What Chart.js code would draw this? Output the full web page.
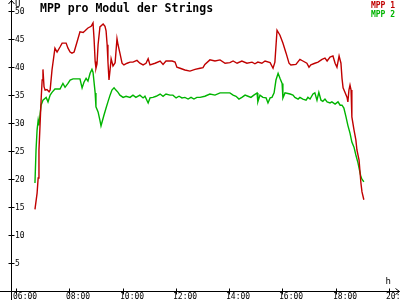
<!DOCTYPE html>
<html>
<head>
<meta charset="utf-8">
<script src="https://cdn.jsdelivr.net/npm/chart.js@4/dist/chart.umd.min.js"></script>
<style>
html,body{margin:0;padding:0;background:#fff;}
canvas{display:block;}
</style>
</head>
<body>
<canvas id="c" width="400" height="300"></canvas>
<script>
const titleText = "MPP pro Modul der Strings";
const seriesNames = ["MPP 1", "MPP 2"];
const seriesColors = ["#c00000", "#00b400"];
const yUnit = "U";
const xUnit = "h";

const xTickHours = [6, 8, 10, 12, 14, 16, 18, 20];
const xTickLabels = ["06:00", "08:00", "10:00", "12:00", "14:00", "16:00", "18:00", "20:00"];
const yTickValues = [5, 10, 15, 20, 25, 30, 35, 40, 45, 50];
const yTickLabels = ["5", "10", "15", "20", "25", "30", "35", "40", "45", "50"];

const mpp1Hours = [6.71,6.79,6.83,6.86,6.90,6.94,6.98,7.01,7.05,7.09,7.16,7.24,7.28,7.35,7.46,7.54,7.65,7.73,7.88,7.95,8.03,8.10,8.18,8.29,8.40,8.52,8.59,8.70,8.82,8.89,8.93,8.97,9.00,9.04,9.08,9.15,9.27,9.34,9.38,9.42,9.45,9.49,9.53,9.57,9.64,9.72,9.79,9.83,9.90,9.98,10.05,10.17,10.28,10.39,10.54,10.65,10.77,10.88,10.96,11.03,11.22,11.41,11.52,11.63,11.86,11.97,12.04,12.16,12.34,12.53,12.72,12.91,13.02,13.09,13.28,13.47,13.66,13.85,14.03,14.15,14.30,14.48,14.67,14.86,14.97,15.08,15.23,15.35,15.54,15.65,15.72,15.80,15.91,16.02,16.14,16.25,16.32,16.51,16.66,16.77,16.92,17.00,17.07,17.22,17.34,17.49,17.60,17.68,17.79,17.90,17.98,18.05,18.13,18.20,18.24,18.28,18.35,18.43,18.46,18.50,18.54,18.58,18.61,18.69,18.76,18.80,18.88,18.95,18.99,19.06];
const mpp1Values = [14.6,17.5,20.2,25.2,29.6,34.1,37.7,39.6,36.5,35.9,36.0,35.6,35.9,39.5,43.4,42.7,43.6,44.3,44.3,43.4,42.7,42.5,42.7,44.5,46.3,46.2,46.5,47.0,47.3,47.9,45.0,41.0,39.8,40.6,44.0,47.2,47.7,47.3,46.5,44.0,41.0,37.7,39.5,41.5,40.2,40.8,45.1,44.0,42.5,40.7,40.4,40.7,40.9,40.9,41.2,40.7,40.4,40.7,41.5,40.4,40.7,41.1,40.5,41.1,41.1,40.9,40.0,39.8,39.5,39.3,39.6,39.8,39.9,40.5,41.3,41.1,41.3,40.7,40.8,41.1,40.7,41.1,40.7,40.9,40.6,40.9,40.7,41.1,40.8,39.8,40.9,46.6,45.7,44.3,42.5,40.7,40.4,40.5,41.4,41.1,40.7,40.0,40.4,40.7,40.9,41.4,41.6,41.1,41.8,42.0,40.7,40.0,42.0,40.7,38.0,36.3,35.5,34.6,33.8,35.9,36.8,35.9,31.1,28.8,27.0,25.2,23.4,19.3,17.7,16.3];

const mpp2Hours = [6.71,6.75,6.79,6.83,6.86,6.90,6.94,7.01,7.13,7.20,7.28,7.35,7.46,7.65,7.76,7.84,7.95,8.03,8.14,8.29,8.40,8.48,8.55,8.63,8.70,8.78,8.85,8.89,8.97,9.00,9.08,9.15,9.19,9.23,9.30,9.38,9.45,9.53,9.60,9.68,9.75,9.83,9.90,10.02,10.13,10.28,10.39,10.50,10.65,10.77,10.84,10.96,11.03,11.14,11.26,11.41,11.52,11.63,11.78,11.89,12.01,12.12,12.23,12.34,12.46,12.57,12.68,12.79,12.91,13.09,13.28,13.47,13.66,14.03,14.15,14.26,14.37,14.48,14.60,14.71,14.82,14.93,15.05,15.08,15.16,15.27,15.39,15.46,15.54,15.61,15.69,15.76,15.84,15.91,15.99,16.02,16.10,16.29,16.40,16.47,16.59,16.66,16.77,16.89,16.96,17.04,17.15,17.22,17.30,17.37,17.45,17.52,17.60,17.68,17.79,17.86,17.98,18.09,18.17,18.24,18.31,18.39,18.46,18.54,18.61,18.69,18.76,18.84,18.91,18.95,18.99,19.06];
const mpp2Values = [19.3,25.2,28.8,30.5,29.6,31.5,33.2,34.1,34.6,33.8,35.0,35.5,36.1,36.1,37.1,36.4,37.1,37.7,37.9,37.9,37.9,36.3,37.3,38.0,37.5,38.9,39.6,39.1,35.4,32.9,32.0,30.5,29.5,30.2,31.4,32.7,33.8,35.0,35.9,36.3,35.9,35.5,35.0,34.6,34.8,34.6,35.0,34.6,35.0,34.5,34.8,33.6,34.5,34.6,34.8,35.2,34.8,35.2,35.0,35.0,34.5,34.8,34.5,34.6,34.3,34.6,34.3,34.6,34.6,34.8,35.2,35.0,35.4,35.4,35.0,34.8,34.3,34.6,35.0,34.8,34.6,35.0,35.4,33.8,35.0,34.6,34.5,33.6,34.5,34.6,35.4,37.7,38.9,38.0,37.1,34.5,35.4,35.2,35.0,34.6,34.3,34.6,34.3,34.1,34.6,34.3,35.2,35.4,34.1,35.5,34.1,33.9,34.3,33.8,33.6,33.8,33.4,33.8,33.2,33.2,32.7,31.1,29.6,28.2,26.6,25.7,24.3,22.9,21.3,20.4,20.0,19.5];

const toPoints = (hs, vs) => hs.map((h, i) => ({ x: h, y: vs[i] }));

const MONO = '"DejaVu Sans Mono", "Liberation Mono", monospace';

const axesPlugin = {
  id: 'axesPlugin',
  beforeDatasetsDraw(chart) {
    const ctx = chart.ctx;
    const xs = chart.scales.x, ys = chart.scales.y;
    const ax = Math.round(xs.getPixelForValue(xs.min)) + 0.5;
    const ay = Math.round(ys.getPixelForValue(0)) + 0.5;
    ctx.save();
    ctx.strokeStyle = '#000';
    ctx.fillStyle = '#000';
    ctx.lineWidth = 1;
    ctx.beginPath();
    ctx.moveTo(ax, 300); ctx.lineTo(ax, 0);
    ctx.moveTo(0, ay); ctx.lineTo(399.5, ay);
    ctx.moveTo(ax - 3, 4); ctx.lineTo(ax, 0.5); ctx.lineTo(ax + 3, 4);
    ctx.moveTo(395.5, ay - 3); ctx.lineTo(399.5, ay); ctx.lineTo(395.5, ay + 3);
    yTickValues.forEach(v => {
      const py = Math.round(ys.getPixelForValue(v)) + 0.5;
      ctx.moveTo(ax - 3, py); ctx.lineTo(ax + 3, py);
    });
    xTickHours.forEach(h => {
      const px = Math.round(xs.getPixelForValue(h)) + 0.5;
      ctx.moveTo(px, ay - 3); ctx.lineTo(px, ay + 3);
    });
    ctx.stroke();

    ctx.font = '8px ' + MONO;
    ctx.textAlign = 'left';
    ctx.textBaseline = 'middle';
    yTickValues.forEach((v, i) => {
      const py = Math.round(ys.getPixelForValue(v));
      ctx.fillText(yTickLabels[i], ax + 3.5, py + 0.5);
    });
    ctx.textBaseline = 'top';
    xTickHours.forEach((h, i) => {
      const px = Math.round(xs.getPixelForValue(h));
      ctx.fillText(xTickLabels[i], px - 3, ay + 1.5);
    });
    ctx.font = '9px ' + MONO;
    ctx.textBaseline = 'alphabetic';
    ctx.fillText(yUnit, ax + 3.5, 7);
    ctx.fillText(xUnit, 385.5, 284);

    ctx.font = 'bold 11.5px ' + MONO;
    ctx.fillText(titleText, 40, 11.5);

    ctx.font = 'bold 8px ' + MONO;
    ctx.textAlign = 'right';
    seriesNames.forEach((n, i) => {
      ctx.fillStyle = seriesColors[i];
      ctx.fillText(n, 395, 8 + i * 9);
    });
    ctx.restore();
  }
};

new Chart(document.getElementById('c'), {
  type: 'line',
  data: {
    datasets: [
      { label: seriesNames[0], data: toPoints(mpp1Hours, mpp1Values), borderColor: seriesColors[0], borderWidth: 1.4, pointRadius: 0, tension: 0, fill: false },
      { label: seriesNames[1], data: toPoints(mpp2Hours, mpp2Values), borderColor: seriesColors[1], borderWidth: 1.4, pointRadius: 0, tension: 0, fill: false }
    ]
  },
  options: {
    responsive: false,
    animation: false,
    devicePixelRatio: 1,
    layout: { padding: { left: 11, right: 1, top: 0, bottom: 9 } },
    scales: {
      x: { type: 'linear', min: 5.81, max: 20.38, display: false },
      y: { type: 'linear', min: 0, max: 52, display: false }
    },
    plugins: { legend: { display: false }, tooltip: { enabled: false }, title: { display: false } }
  },
  plugins: [axesPlugin]
});
</script>
</body>
</html>
